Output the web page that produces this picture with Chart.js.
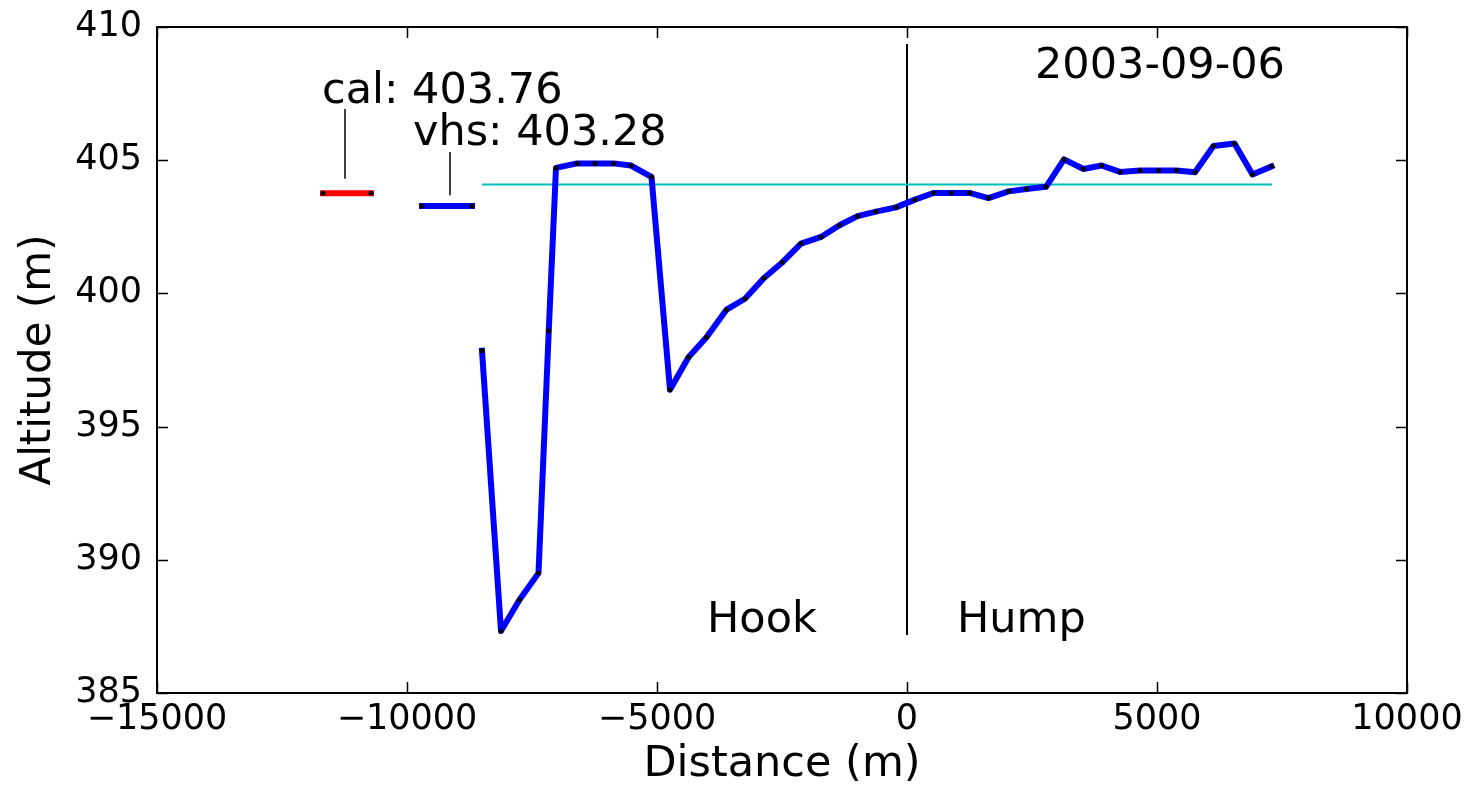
<!DOCTYPE html>
<html>
<head>
<meta charset="utf-8">
<script src="https://cdn.jsdelivr.net/npm/chart.js@4/dist/chart.umd.min.js"></script>
<style>
body{margin:0;background:#fff}
#wrap{width:1469px;height:786px}
</style>
</head>
<body>
<div id="wrap"><canvas id="profileChart" width="1469" height="786"></canvas></div>
<script>

/* profile data */
const distances = [-8500,-8120,-7750,-7370,-7165,-7020,-6600,-6240,-5870,-5520,-5110,-4740,-4370,-4010,-3610,-3240,-2860,-2490,-2120,-1720,-1350,-990,-620,-220,160,530,880,1250,1630,2030,2390,2780,3140,3530,3890,4260,4660,5030,5390,5760,6130,6550,6910,7290]
const altitudes = [397.85,387.33,388.5,389.5,398.6,404.71,404.88,404.88,404.88,404.8,404.37,396.38,397.6,398.35,399.39,399.8,400.58,401.17,401.87,402.12,402.56,402.9,403.07,403.23,403.52,403.77,403.77,403.77,403.58,403.83,403.92,404.0,405.03,404.67,404.8,404.56,404.61,404.61,404.61,404.55,405.53,405.63,404.46,404.77]

const meanSpan = [-8500,7300]
const meanLevel = 404.09

const calSpan = [-11680,-10720]
const calLevel = 403.76
const vhsSpan = [-9700,-8700]
const vhsLevel = 403.28

const calLeaderX = -11240
const calLeaderY = [406.92,404.3]
const vhsLeaderX = -9140
const vhsLeaderY = [405.31,403.68]

const dividerX = 0
const dividerY = [409.36,387.18]

const xTicks = [-15000,-10000,-5000,0,5000,10000]
const yTicks = [385,390,395,400,405,410]

const labels = [
  {text:"cal: 403.76", x:-11700, y:407.14},
  {text:"vhs: 403.28", x:-9880, y:405.56},
  {text:"2003-09-06", x:2560, y:408.08},
  {text:"Hook", x:-4000, y:387.29},
  {text:"Hump", x:1000, y:387.29}
]

const FONT = "DejaVu Sans"

function pts(xs,ys){
  return xs.map((x,i)=>({x:x,y:ys[i]}))
}

/* frame, inward ticks on all sides, and text annotations */
const decorations = {
  id:"decorations",
  afterDraw(chart){
    const ctx = chart.ctx
    const a = chart.chartArea
    const sx = chart.scales.x, sy = chart.scales.y
    const tl = 11
    ctx.save()
    ctx.strokeStyle = "#000"
    ctx.lineWidth = 1.5
    ctx.beginPath()
    xTicks.forEach(v=>{
      const px = Math.round(sx.getPixelForValue(v))+0.5
      ctx.moveTo(px,a.bottom); ctx.lineTo(px,a.bottom-tl)
      ctx.moveTo(px,a.top); ctx.lineTo(px,a.top+tl)
    })
    yTicks.forEach(v=>{
      const py = Math.round(sy.getPixelForValue(v))+0.5
      ctx.moveTo(a.left,py); ctx.lineTo(a.left+tl,py)
      ctx.moveTo(a.right,py); ctx.lineTo(a.right-tl,py)
    })
    ctx.stroke()
    ctx.lineWidth = 2
    ctx.strokeRect(a.left,a.top,a.right-a.left,a.bottom-a.top)

    ctx.fillStyle = "#000"
    ctx.font = "43px '"+FONT+"'"
    ctx.textAlign = "left"
    ctx.textBaseline = "alphabetic"
    labels.forEach(l=>{
      ctx.fillText(l.text, sx.getPixelForValue(l.x), sy.getPixelForValue(l.y))
    })
    ctx.restore()
  }
}

new Chart(document.getElementById("profileChart"),{
  type:"line",
  data:{
    datasets:[
      {
        data:pts(distances,altitudes),
        borderColor:"#0000ff",
        borderWidth:6,
        borderCapStyle:"square",
        borderJoinStyle:"round",
        pointRadius:2.5,
        pointBackgroundColor:"#000",
        pointBorderWidth:0,
        tension:0
      },
      {
        data:pts(meanSpan,[meanLevel,meanLevel]),
        borderColor:"#00bfbf",
        borderWidth:2,
        pointRadius:0
      },
      {
        data:pts(calSpan,[calLevel,calLevel]),
        borderColor:"#ff0000",
        borderWidth:6,
        borderCapStyle:"square",
        pointRadius:2.5,
        pointBackgroundColor:"#000",
        pointBorderWidth:0
      },
      {
        data:pts(vhsSpan,[vhsLevel,vhsLevel]),
        borderColor:"#0000ff",
        borderWidth:6,
        borderCapStyle:"square",
        pointRadius:2.5,
        pointBackgroundColor:"#000",
        pointBorderWidth:0
      },
      {
        data:pts([calLeaderX,calLeaderX],calLeaderY),
        borderColor:"#000",
        borderWidth:1.5,
        pointRadius:0
      },
      {
        data:pts([vhsLeaderX,vhsLeaderX],vhsLeaderY),
        borderColor:"#000",
        borderWidth:1.5,
        pointRadius:0
      },
      {
        data:pts([dividerX,dividerX],dividerY),
        borderColor:"#000",
        borderWidth:2,
        pointRadius:0
      }
    ]
  },
  options:{
    responsive:false,
    animation:false,
    layout:{padding:{left:0,right:62,top:27,bottom:0}},
    plugins:{
      legend:{display:false},
      tooltip:{enabled:false}
    },
    scales:{
      x:{
        type:"linear",
        min:-15000,
        max:10000,
        afterBuildTicks(s){ s.ticks = xTicks.map(v=>({value:v})) },
        afterFit(s){ s.height = 93; s.paddingLeft = 0; s.paddingRight = 0 },
        grid:{display:false,drawTicks:false},
        border:{display:false},
        ticks:{
          padding:6,
          color:"#000",
          font:{family:FONT,size:35},
          maxRotation:0,
          autoSkip:false,
          callback:v=> v<0 ? "\u2212"+Math.abs(v) : String(v)
        },
        title:{
          display:true,
          text:"Distance (m)",
          color:"#000",
          font:{family:FONT,size:43,lineHeight:1},
          padding:{top:0,bottom:0}
        }
      },
      y:{
        min:385,
        max:410,
        afterBuildTicks(s){ s.ticks = yTicks.map(v=>({value:v})) },
        afterFit(s){ s.width = 157; s.paddingTop = 0; s.paddingBottom = 0 },
        grid:{display:false,drawTicks:false},
        border:{display:false},
        ticks:{
          padding:15,
          color:"#000",
          font:{family:FONT,size:35}
        },
        title:{
          display:true,
          text:"Altitude (m)",
          color:"#000",
          font:{family:FONT,size:42,lineHeight:1},
          padding:{top:18,bottom:0}
        }
      }
    }
  },
  plugins:[decorations]
})

</script>
</body>
</html>
